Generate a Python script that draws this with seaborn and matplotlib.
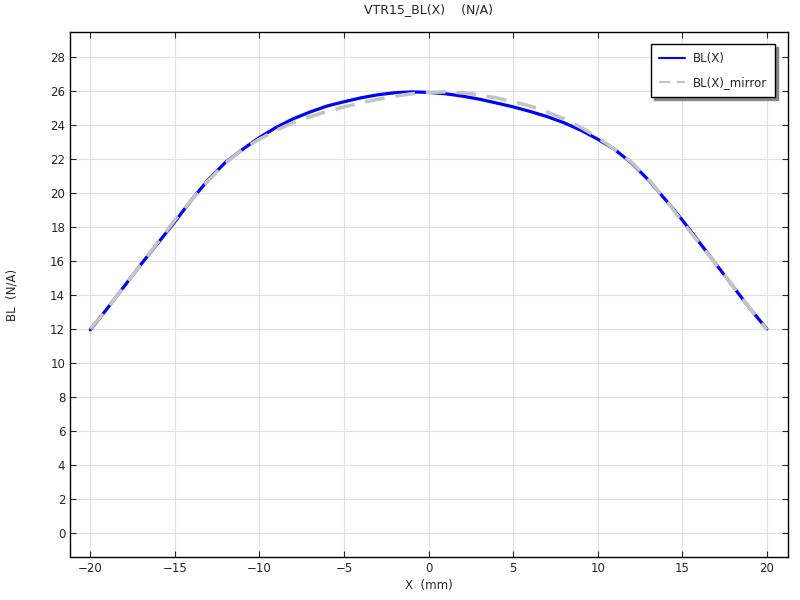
import numpy as np
import pandas as pd
import matplotlib
matplotlib.use("Agg")
import matplotlib.pyplot as plt
import seaborn as sns

# Data
x_mm = [-20, -19, -18, -17, -16, -15, -14, -13, -12, -11, -10, -9, -8, -7, -6, -5, -4, -3, -2, -1,
        0, 1, 2, 3, 4, 5, 6, 7, 8, 9, 10, 11, 12, 13, 14, 15, 16, 17, 18, 19, 20]
bl = [11.95, 13.2, 14.5, 15.8, 17.05, 18.3, 19.6, 20.8, 21.8, 22.55, 23.25, 23.85, 24.35, 24.75, 25.1,
      25.35, 25.58, 25.76, 25.88, 25.93,
      25.9, 25.82, 25.68, 25.5, 25.28, 25.05, 24.78, 24.48, 24.12, 23.68, 23.15, 22.55, 21.75, 20.75,
      19.6, 18.4, 17.1, 15.8, 14.5, 13.2, 12.0]
bl_mirror = bl[::-1]

title = "VTR15_BL(X)    (N/A)"
xlabel = "X  (mm)"
ylabel = "BL  (N/A)"
xticks = [-20, -15, -10, -5, 0, 5, 10, 15, 20]
yticks = list(range(0, 29, 2))

sns.set_style("ticks")
plt.rcParams['font.family'] = ['DejaVu Sans']

fig = plt.figure(figsize=(8, 6), dpi=100)
ax = fig.add_axes([0.0875, 0.0717, 0.8975, 0.875])

df = pd.DataFrame({"X": x_mm, "BL(X)": bl, "BL(X)_mirror": bl_mirror})

sns.lineplot(data=df, x="X", y="BL(X)", ax=ax, color="#0000ff", linewidth=2.3, label="BL(X)")
sns.lineplot(data=df, x="X", y="BL(X)_mirror", ax=ax, color="#c4c4c4", linewidth=2.6,
             linestyle=(0, (5.5, 3)), label="BL(X)_mirror")

ax.set_xlim(-21.2, 21.25)
ax.set_ylim(-1.4, 29.45)
ax.set_xticks(xticks)
ax.set_yticks(yticks)
ax.grid(True, color="#e2e2e2", linewidth=0.8)
ax.set_axisbelow(True)
ax.tick_params(direction="in", top=True, right=True, length=4, labelsize=8.5, width=0.8)
for s in ax.spines.values():
    s.set_color("black")
    s.set_linewidth(1.0)

ax.set_title(title, fontsize=9, pad=14)
ax.set_xlabel(xlabel, fontsize=8.5, labelpad=3)
ax.set_ylabel(ylabel, fontsize=8.5, labelpad=23)

leg = ax.legend(loc="upper right", bbox_to_anchor=(0.99, 0.988), frameon=True, fancybox=False,
                shadow={"color": "#888888", "ox": 2, "oy": -2, "alpha": 1.0}, fontsize=8.5,
                handlelength=2.2, handletextpad=0.6, borderpad=0.7, labelspacing=0.9)
leg.get_frame().set_edgecolor("black")
leg.get_frame().set_linewidth(1.0)
for line in leg.get_lines():
    line.set_linewidth(1.5)

fig.savefig("out.png", dpi=100)
